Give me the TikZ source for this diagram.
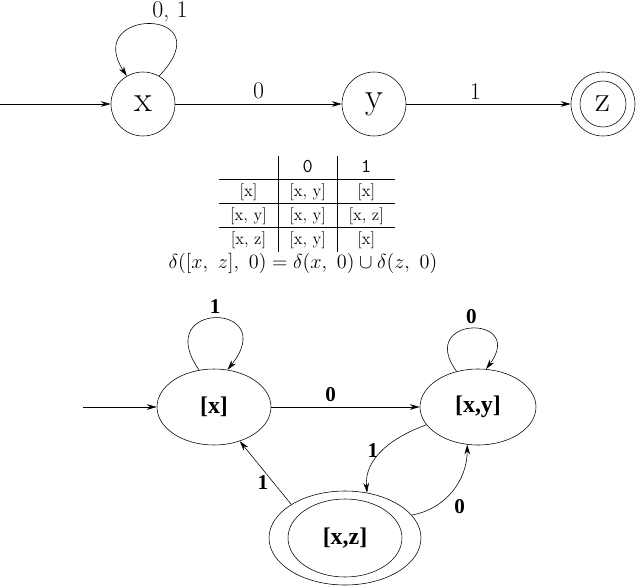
\documentclass[tikz,border=0pt]{standalone}
\usepackage{fontspec}
\usepackage{amsmath}
\usepackage{amssymb}
\usepackage{tikz}
\usetikzlibrary{arrows.meta}
\usetikzlibrary{positioning}
\usetikzlibrary{shapes.geometric}
\newfontfamily\timesbold{Liberation Serif}

\begin{document}
\begin{tikzpicture}[>={Stealth[length=7pt,width=4pt]},
  nstate/.style={circle, draw, minimum size=1.6cm, inner sep=0pt, font=\fontsize{26}{28}\selectfont},
  dstate/.style={ellipse, draw, inner sep=0pt, font=\timesbold\bfseries\fontsize{17}{19}\selectfont},
  nlab/.style={font=\fontsize{17}{19}\selectfont},
  dlab/.style={font=\timesbold\bfseries\fontsize{15}{17}\selectfont}]
\useasboundingbox (0,0) rectangle (15.9,14.65);
% top automaton
\node[nstate] (x) at (3.575,12.05) {x};
\node[nstate] (y) at (9.35,12.05) {y};
\node[nstate] (z) at (15.075,12.05) {z};
\draw (z.center) circle (0.575cm);
\coordinate (start1) at (0,12.05);
\draw[->] (start1) -- (x);
\draw[->] (x) -- (y) node[midway, above, nlab] {0};
\draw[->] (y) -- (z) node[pos=0.42, above, nlab] {1};
\draw[->] (x.60) .. controls +(1.65,1.73) and +(-1.13,1.73) .. (x.120)
  node[pos=0.5, anchor=south west, inner sep=1pt, nlab] {0, 1};
% transition table
\node[inner sep=0pt] (table) at (7.675,9.56) {\fontsize{12}{14}\selectfont
  \renewcommand{\arraystretch}{1.2}\setlength{\tabcolsep}{8pt}%
  \begin{tabular}{c|c|c}
   & {\ttfamily\fontsize{14}{14}\selectfont 0} & {\ttfamily\fontsize{14}{14}\selectfont 1}\\\hline
  [x] & [x, y] & [x]\\\hline
  [x, y] & [x, y] & [x, z]\\\hline
  [x, z] & [x, y] & [x]
  \end{tabular}};
\node[inner sep=0pt] (delta) at (7.575,8.075) {\fontsize{14}{16}\selectfont
  $\delta([x,\ z],\ 0) = \delta(x,\ 0) \cup \delta(z,\ 0)$};
% bottom automaton
\node[dstate, minimum width=2.85cm, minimum height=1.9cm] (bx) at (5.35,4.475) {[x]};
\node[dstate, minimum width=2.9cm, minimum height=1.9cm] (bxy) at (11.95,4.475) {[x,y]};
\node[dstate, minimum width=3.8cm, minimum height=2.35cm] (bxz) at (8.625,1.2) {[x,z]};
\draw (bxz.center) ellipse (1.425cm and 0.975cm);
\coordinate (start2) at (2.075,4.475);
\draw[->] (start2) -- (bx);
\draw[->] (bx) -- (bxy) node[pos=0.4, above, dlab] {0};
\draw[->] (bx.112) .. controls +(-1.225,1.75) and +(1.35,1.7) .. (bx.70)
  node[pos=0.5, above, dlab] {1};
\draw[->] (bxy.121) .. controls +(-1.025,1.4) and +(1.025,1.375) .. (bxy.78)
  node[pos=0.5, above, dlab] {0};
\draw[->] (bxz.148) -- (bx.-53) node[pos=0.35, left, dlab] {1};
\draw[->] (bxy.199) to[out=200, in=95] node[pos=0.5, left, dlab] {1} (bxz.64);
\draw[->] (bxz.19) to[out=10, in=-90] node[pos=0.45, below right, dlab] {0} (bxy.254);
\end{tikzpicture}
\end{document}
